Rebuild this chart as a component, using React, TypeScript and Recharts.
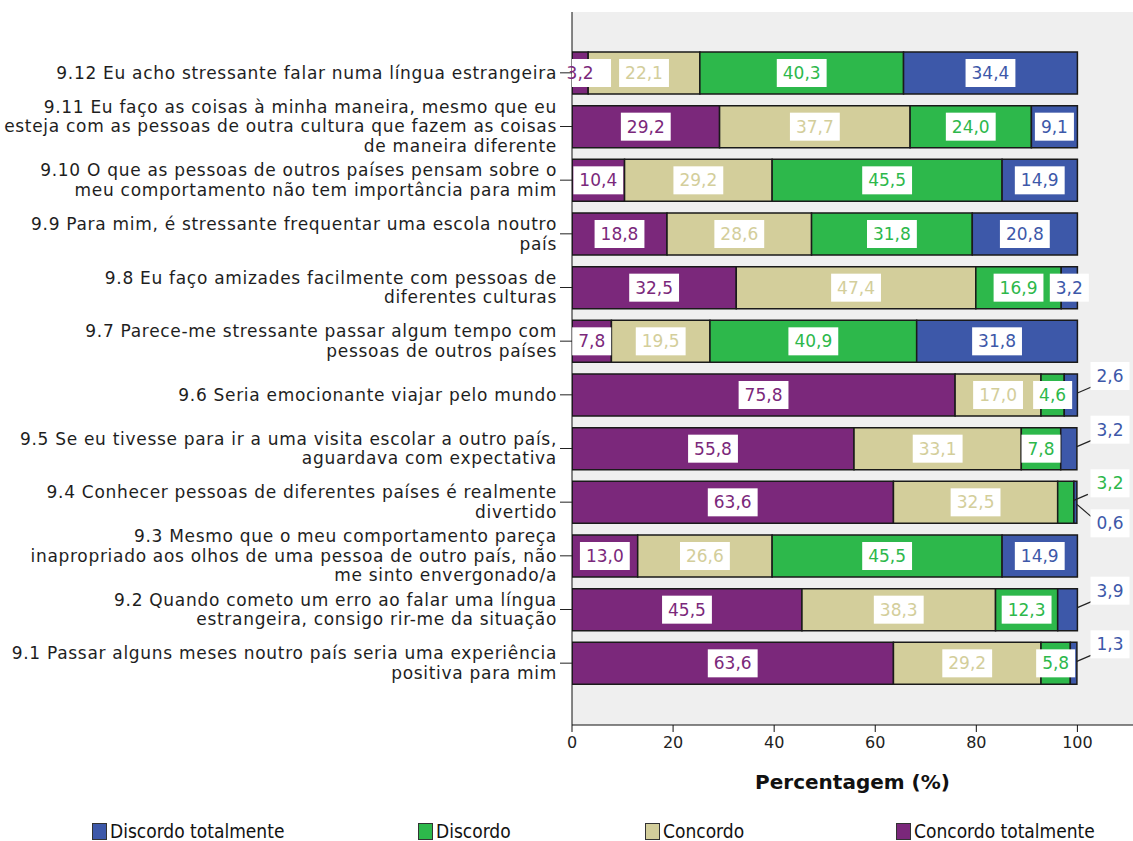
import { BarChart, Bar, XAxis, YAxis, CartesianGrid, Legend, LabelList } from 'recharts'

const questions = [
  '9.12 Eu acho stressante falar numa língua estrangeira',
  '9.11 Eu faço as coisas à minha maneira, mesmo que eu\nesteja com as pessoas de outra cultura que fazem as coisas\nde maneira diferente',
  '9.10 O que as pessoas de outros países pensam sobre o\nmeu comportamento não tem importância para mim',
  '9.9 Para mim, é stressante frequentar uma escola noutro\npaís',
  '9.8 Eu faço amizades facilmente com pessoas de\ndiferentes culturas',
  '9.7 Parece-me stressante passar algum tempo com\npessoas de outros países',
  '9.6 Seria emocionante viajar pelo mundo',
  '9.5 Se eu tivesse para ir a uma visita escolar a outro país,\naguardava com expectativa',
  '9.4 Conhecer pessoas de diferentes países é realmente\ndivertido',
  '9.3 Mesmo que o meu comportamento pareça\ninapropriado aos olhos de uma pessoa de outro país, não\nme sinto envergonado/a',
  '9.2 Quando cometo um erro ao falar uma língua\nestrangeira, consigo rir-me da situação',
  '9.1 Passar alguns meses noutro país seria uma experiência\npositiva para mim',
]

const concordoTotalmente = [3.2, 29.2, 10.4, 18.8, 32.5, 7.8, 75.8, 55.8, 63.6, 13.0, 45.5, 63.6]
const concordo = [22.1, 37.7, 29.2, 28.6, 47.4, 19.5, 17.0, 33.1, 32.5, 26.6, 38.3, 29.2]
const discordo = [40.3, 24.0, 45.5, 31.8, 16.9, 40.9, 4.6, 7.8, 3.2, 45.5, 12.3, 5.8]
const discordoTotalmente = [34.4, 9.1, 14.9, 20.8, 3.2, 31.8, 2.6, 3.2, 0.6, 14.9, 3.9, 1.3]

const xTicks = [0, 20, 40, 60, 80, 100]

// labels SPSS pushed outside the bar (row index, series, direction)
const outsideLabels: [number, string, 'up' | 'down'][] = [
  [6, 'dt', 'up'],
  [7, 'dt', 'up'],
  [8, 'd', 'up'],
  [8, 'dt', 'down'],
  [10, 'dt', 'up'],
  [11, 'dt', 'up'],
]

const series = [
  { key: 'ct', name: 'Concordo totalmente', color: '#7b287b' },
  { key: 'c', name: 'Concordo', color: '#d3ce9b' },
  { key: 'd', name: 'Discordo', color: '#2db84b' },
  { key: 'dt', name: 'Discordo totalmente', color: '#3d58a9' },
]

const data = questions.map((q, i) => ({
  name: q,
  ct: concordoTotalmente[i],
  c: concordo[i],
  d: discordo[i],
  dt: discordoTotalmente[i],
}))

const FONT = '"DejaVu Sans", sans-serif'
const LABEL_SIZE = 17

function textWidth(s: string) {
  let w = 0
  for (const ch of s) w += ch === ',' ? 0.318 * LABEL_SIZE : 0.636 * LABEL_SIZE
  return w
}

function ValueBox({ cx, cy, text, color, minX }: any) {
  const w = textWidth(text) + 12
  const h = 28
  let rx = cx - w / 2
  if (minX != null && rx < minX) rx = minX
  return (
    <g>
      <rect x={rx} y={cy - h / 2} width={w} height={h} fill="#fff" />
      <text x={cx} y={cy} dy="0.36em" textAnchor="middle" fontSize={LABEL_SIZE} fontFamily={FONT} fill={color}>
        {text}
      </text>
    </g>
  )
}

function makeLabel(key: string, color: string, first: boolean) {
  return (props: any) => {
    const vb = props.viewBox && props.viewBox.width != null ? props.viewBox : props
    const { x, y, width, height } = vb
    const { value, index } = props
    if (value == null) return null
    const text = Number(value).toFixed(1).replace('.', ',')
    const cy = y + height / 2
    const out = outsideLabels.find((o) => o[0] === index && o[1] === key)
    if (out) {
      const right = x + width
      const up = out[2] === 'up'
      return (
        <g>
          <line x1={right} y1={up ? cy - 2 : cy + 2} x2={right + 14} y2={up ? cy - 8 : cy + 14} stroke="#222" strokeWidth={1.2} />
          <ValueBox cx={1110} cy={up ? cy - 19 : cy + 21} text={text} color={color} />
        </g>
      )
    }
    return <ValueBox cx={x + width / 2} cy={cy} text={text} color={color} minX={first ? x : undefined} />
  }
}

function QuestionTick({ x, y, payload }: any) {
  const lines = String(payload.value).split('\n')
  const lh = 19.5
  const y0 = y - ((lines.length - 1) * lh) / 2
  return (
    <g>
      <line x1={x - 12} x2={x} y1={y} y2={y} stroke="#222" />
      <text textAnchor="end" fontSize={17} letterSpacing={0.7} fontFamily={FONT} fill="#1e1e1e">
        {lines.map((l, i) => (
          <tspan key={i} x={x - 15} y={y0 + i * lh} dy="0.35em">
            {l}
          </tspan>
        ))}
      </text>
    </g>
  )
}

const legendLefts = [92, 418, 645, 896]

function ChartLegend() {
  const items = [...series].reverse()
  return (
    <div style={{ position: 'relative', width: 1133, height: 40 }}>
      {items.map((s, i) => (
        <div
          key={s.key}
          style={{
            position: 'absolute',
            left: legendLefts[i],
            top: 19,
            display: 'flex',
            alignItems: 'center',
            fontFamily: '"Liberation Sans Narrow", "DejaVu Sans Condensed", sans-serif',
            fontSize: 19,
            color: '#111',
          }}
        >
          <span
            style={{
              display: 'inline-block',
              width: 13,
              height: 15,
              background: s.color,
              border: '1px solid #333',
              marginRight: 3,
            }}
          />
          {s.name}
        </div>
      ))}
    </div>
  )
}

export default function App() {
  return (
    <div style={{ position: 'absolute', left: 0, top: 0, width: 1133, height: 841, background: '#fff' }}>
      <BarChart
        width={1133}
        height={841}
        data={data}
        layout="vertical"
        margin={{ top: 12, right: 0, left: 0, bottom: 0 }}
        barSize={42}
      >
        <CartesianGrid horizontal={false} vertical={false} fill="#efefef" />
        <XAxis
          xAxisId="top"
          orientation="top"
          type="number"
          domain={[0, 111]}
          height={0}
          tick={false}
          tickLine={false}
          axisLine={{ stroke: '#8a8a8a' }}
        />
        <XAxis
          type="number"
          domain={[0, 111]}
          ticks={xTicks}
          allowDataOverflow
          height={76}
          tickSize={7}
          tickMargin={5}
          tickLine={{ stroke: '#111' }}
          axisLine={{ stroke: '#111' }}
          tick={{ fontSize: 16, fontFamily: FONT, fill: '#222' }}
          label={(p: any) => {
            const vb = p.viewBox
            return (
              <text
                x={vb.x + vb.width / 2}
                y={vb.y + 64}
                textAnchor="middle"
                fontSize={20}
                fontWeight="bold"
                fontFamily={FONT}
                fill="#111"
              >
                Percentagem (%)
              </text>
            )
          }}
        />
        <YAxis
          type="category"
          dataKey="name"
          width={572}
          tickSize={0}
          tickMargin={0}
          tickLine={false}
          axisLine={{ stroke: '#111' }}
          tick={<QuestionTick />}
          padding={{ top: 34, bottom: 35 }}
          interval={0}
        />
        <Legend verticalAlign="bottom" height={40} wrapperStyle={{ left: 0, width: 1133 }} content={<ChartLegend />} />
        {series.map((s, i) => (
          <Bar
            key={s.key}
            dataKey={s.key}
            name={s.name}
            stackId="a"
            fill={s.color}
            stroke="#1a1a1a"
            strokeWidth={1.5}
            isAnimationActive={false}
          >
            <LabelList dataKey={s.key} content={makeLabel(s.key, s.color, i === 0)} />
          </Bar>
        ))}
      </BarChart>
    </div>
  )
}
